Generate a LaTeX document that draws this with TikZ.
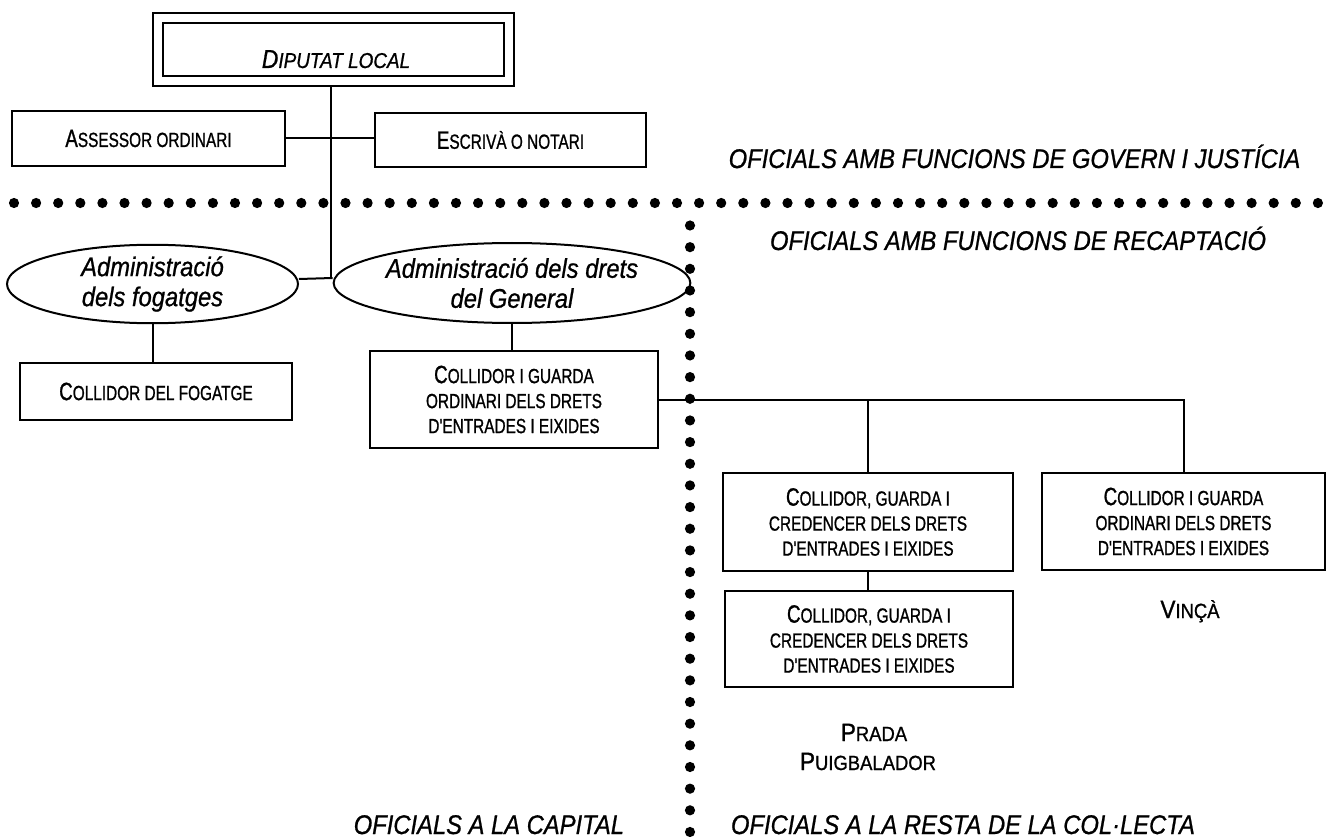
\documentclass[tikz,border=0pt]{standalone}
\usepackage{fontspec}
\setmainfont{Liberation Sans}
\newfontfamily\narrowfont[FakeStretch=0.75,FakeBold=1]{Liberation Sans}
\newfontfamily\placefont[FakeStretch=0.9,FakeBold=1]{Liberation Sans}
\newfontfamily\headfont[FakeStretch=0.88,FakeBold=0.8]{Liberation Sans}
\usetikzlibrary{shapes.geometric}
\newcommand\capL{\fontsize{25}{25}\selectfont}
\newcommand\capS{\fontsize{20.5}{25}\selectfont}
\newcommand\fsc[2]{{\capL #1}{\capS #2}}
\begin{document}
\begin{tikzpicture}[x=1pt,y=-1pt,
  line width=2pt,
  box/.style={draw,rectangle,inner sep=0pt,align=center,font=\narrowfont\capS},
  oval/.style={draw,ellipse,inner sep=0pt,align=center,
    font=\headfont\itshape\fontsize{27}{30}\selectfont},
  head/.style={inner sep=0pt,anchor=base,font=\headfont\itshape\fontsize{27}{28}\selectfont},
  place/.style={inner sep=0pt,anchor=base,font=\placefont\capS},
  dotc/.style={fill=black}]
\useasboundingbox (0,0) rectangle (1326,837);
\fill[white] (0,0) rectangle (1326,837);

% dotted separators
\foreach \i in {0,...,59} \fill[dotc] ({14+\i*22.1},203) circle (5.1pt);
\foreach \j in {0,...,28} \fill[dotc] (690,{225.5+\j*21.66}) circle (5.1pt);

% top box
\node[draw,rectangle,minimum width=361pt,minimum height=73pt,inner sep=0pt] (dipo) at (333.5,49.5) {};
\node[draw,rectangle,minimum width=341pt,minimum height=53pt,inner sep=0pt] (dip) at (333.5,49.5) {};
\node[inner sep=0pt,anchor=base,font=\headfont\itshape] (dipt) at (336,68)
  {{\fontsize{26}{26}\selectfont D}{\fontsize{21.5}{26}\selectfont IPUTAT LOCAL}};

\node[box,minimum width=273pt,minimum height=55pt] (ass) at (148.5,138.5) {\fsc{A}{SSESSOR ORDINARI}};
\node[box,minimum width=271pt,minimum height=54pt] (esc) at (510.5,140) {\fsc{E}{SCRIVÀ O NOTARI}};

\node[oval,minimum width=291pt,minimum height=78pt] (e1) at (152.5,284) {Administració\\dels fogatges};
\node[oval,minimum width=292pt,minimum height=80pt] (e2) at (512,283) {Administració dels drets\\del General};

\node[box,minimum width=272pt,minimum height=57pt] (fog) at (156,391.5) {\fsc{C}{OLLIDOR DEL FOGATGE}};
\node[box,minimum width=288pt,minimum height=97pt] (cg) at (514,399.5)
  {\fsc{C}{OLLIDOR I GUARDA}\\ORDINARI DELS DRETS\\D'ENTRADES I EIXIDES};

\node[box,minimum width=290pt,minimum height=98pt] (b1) at (868,522)
  {\fsc{C}{OLLIDOR, GUARDA I}\\CREDENCER DELS DRETS\\D'ENTRADES I EIXIDES};
\node[box,minimum width=288pt,minimum height=96pt] (b2) at (869,639)
  {\fsc{C}{OLLIDOR, GUARDA I}\\CREDENCER DELS DRETS\\D'ENTRADES I EIXIDES};
\node[box,minimum width=283pt,minimum height=97pt] (vin) at (1183.5,521.5)
  {\fsc{C}{OLLIDOR I GUARDA}\\ORDINARI DELS DRETS\\D'ENTRADES I EIXIDES};

% place names
\node[place] (vinca) at (1190,618) {\fsc{V}{INÇÀ}};
\node[place] (prada) at (874,741) {\fsc{P}{RADA}};
\node[place] (puig) at (868,770) {\fsc{P}{UIGBALADOR}};

% headings
\node[head] (gov) at (1014.5,168) {OFICIALS AMB FUNCIONS DE GOVERN I JUSTÍCIA};
\node[head] (rec) at (1018,250) {OFICIALS AMB FUNCIONS DE RECAPTACIÓ};
\node[head,anchor=base east] (cap) at (625,834) {OFICIALS A LA CAPITAL};
\node[head,anchor=base west] (resta) at (730,834) {OFICIALS A LA RESTA DE LA COL·LECTA};

% connectors
\coordinate (j) at (331,278);
\draw ([xshift=-2.5pt]dipo.south) -- (j);
\draw (ass.east) -- (ass.east -| esc.west);
\draw ([yshift=5pt]e1.east) -- ([yshift=5pt]e2.west);
\draw (e1.south) -- (e1.south |- fog.north);
\draw (e2.south) -- (e2.south |- cg.north);
\draw (cg.east) -- (cg.east -| vin.north) -- (vin.north);
\draw (b1.north) -- (b1.north |- cg.east);
\draw (b1.south) -- (b1.south |- b2.north);
\end{tikzpicture}
\end{document}
